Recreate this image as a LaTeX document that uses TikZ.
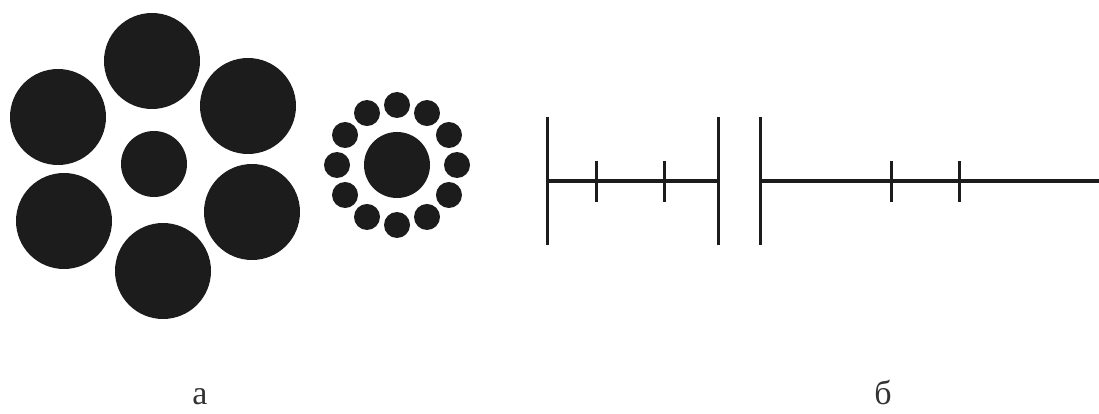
\documentclass[tikz,border=0pt]{standalone}
\usepackage{fontspec}
\setmainfont{Liberation Serif}
\usepackage{xcolor}
\usetikzlibrary{positioning, calc}

\definecolor{ink}{HTML}{1C1C1C}

\begin{document}
\begin{tikzpicture}[
    x=1pt, y=-1pt,
    disc/.style={fill=ink},
    bar/.style={draw=ink, line width=3pt},
    label/.style={font=\fontsize{34}{38}\selectfont, text=black!80, anchor=base, inner sep=0pt}
]
    \useasboundingbox (0,0) rectangle (1099,414);

    % ================= LEFT FIGURE: BIG RING =================
    \fill[disc] (154,164) circle[radius=33];
    \foreach \cx/\cy in {152/61, 248/106, 252/212, 163/271, 64/221, 58/117}
        \fill[disc] (\cx,\cy) circle[radius=48];

    % ================= LEFT FIGURE: SMALL RING =================
    \coordinate (SC) at (397,165);
    \fill[disc] (SC) circle[radius=33];
    \foreach \a in {0,30,...,330}
        \fill[disc] ($(SC)+(\a:60)$) circle[radius=13];

    % ================= RIGHT FIGURE: SEGMENTS =================
    % left segment
    \draw[bar] (547,181) -- (718,181);
    \draw[bar] (547,117) -- (547,245);
    \draw[bar] (718,117) -- (718,245);
    \draw[bar] (596,161) -- (596,202);
    \draw[bar] (664,161) -- (664,202);

    % right segment
    \draw[bar] (760,181) -- (1099,181);
    \draw[bar] (760,117) -- (760,245);
    \draw[bar] (891,161) -- (891,202);
    \draw[bar] (959,161) -- (959,202);

    % ================= LABELS =================
    \node[label] (la) at (200,404) {а};
    \node[label] (lb) at (883,404) {б};

\end{tikzpicture}
\end{document}
